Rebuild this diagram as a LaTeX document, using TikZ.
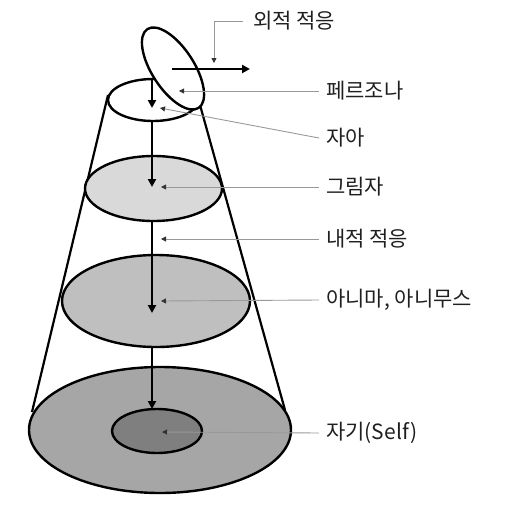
\documentclass[tikz,border=0pt]{standalone}
\usepackage{fontspec}
\newfontfamily\kr{Noto Sans CJK KR}
\usetikzlibrary{arrows.meta}
\definecolor{gA}{HTML}{D9D9D9}
\definecolor{gB}{HTML}{BFBFBF}
\definecolor{gC}{HTML}{A6A6A6}
\definecolor{gD}{HTML}{7F7F7F}
\begin{document}
\begin{tikzpicture}[x=1pt, y=-1pt,
	disk/.style={draw=black, line width=2.4pt},
	flow/.style={line width=2.2pt, -{Triangle[length=8pt, width=8pt]}},
	leader/.style={draw=black!40, line width=0.9pt, -{Triangle[length=5pt, width=5pt, color=black!80]}},
	lbl/.style={anchor=west, inner sep=0pt, text=black!88, font=\kr\fontsize{21}{23}\selectfont}]
	\useasboundingbox (0,0) rectangle (512,512);
	% layers of the cone
	\filldraw[disk, fill=gC] (160,430) ellipse [x radius=131, y radius=63];
	\filldraw[disk, fill=gD] (157,431) ellipse [x radius=45, y radius=22];
	\draw[line width=2.2pt] (108,95) -- (32,412);
	\draw[line width=2.2pt] (200,105) -- (285,410);
	\filldraw[disk, fill=gB] (156,301) ellipse [x radius=94, y radius=46];
	\filldraw[disk, fill=gA] (153.5,188.5) ellipse [x radius=68.5, y radius=32.5];
	\filldraw[disk, fill=white] (153,100) ellipse [x radius=45, y radius=21];
	\filldraw[disk, fill=white, rotate around={-57:(173,68.5)}] (173,68.5) ellipse [x radius=47, y radius=21];
	% arrow points
	\coordinate (f0) at (152,79);  \coordinate (f1) at (152,108);
	\coordinate (f2) at (152,121); \coordinate (f3) at (152,187);
	\coordinate (f4) at (152,221); \coordinate (f5) at (152,313);
	\coordinate (f6) at (152,347); \coordinate (f7) at (152,409);
	\coordinate (outS) at (172,69); \coordinate (outE) at (250,69);
	\foreach \a/\b in {f0/f1, f2/f3, f4/f5, f6/f7, outS/outE}
		\draw[flow] (\a) -- (\b);
	% leader tips
	\coordinate (outer) at (214,63);
	\coordinate (persona) at (179,91);
	\coordinate (ego) at (160,108);
	\coordinate (shadow) at (161,187);
	\coordinate (inner) at (161,239);
	\coordinate (anima) at (161,301);
	\coordinate (self) at (162,432);
	\node[lbl] (outer-lbl) at (253,21) {외적 적응};
	\draw[leader] ([xshift=-10pt]outer-lbl.west) -| (outer);
	\foreach \n/\ly/\txt in {persona/91/페르조나, ego/138/자아, shadow/187/그림자, inner/239/내적 적응, anima/300/{아니마, 아니무스}, self/433/자기(Self)} {
		\node[lbl] (\n-lbl) at (326,\ly) {\txt};
		\draw[leader] ([xshift=-7pt]\n-lbl.west) -- (\n);
	}
\end{tikzpicture}
\end{document}
